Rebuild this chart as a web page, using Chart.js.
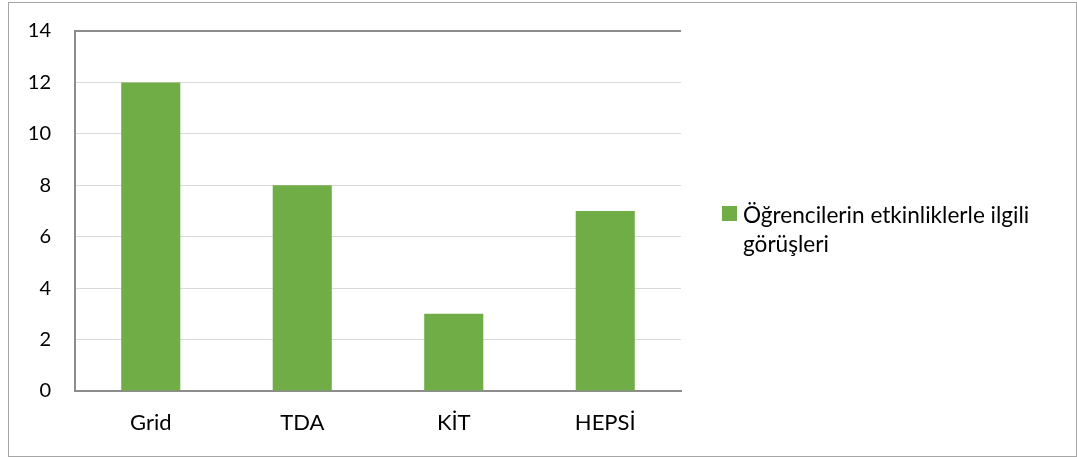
<!DOCTYPE html>
<html>
<head>
<meta charset="utf-8">
<script src="https://cdn.jsdelivr.net/npm/chart.js@4/dist/chart.umd.min.js"></script>
<style>
  html, body { margin: 0; padding: 0; background: #fff; }
  #kutu {
    position: absolute; left: 8px; top: 2px;
    width: 1067px; height: 453px;
    border: 1px solid #a6a6a6; border-right-width: 2px; border-bottom-width: 2px;
  }
  #grafik { display: block; }
</style>
</head>
<body>
<div id="kutu"><canvas id="grafik" width="1067" height="453"></canvas></div>
<script>
const kategoriler = ['Grid', 'TDA', 'KİT', 'HEPSİ'];
const degerler = [12, 8, 3, 7];
const seriAdi = 'Öğrencilerin etkinliklerle ilgili görüşleri';
const legendSatirlari = ['Öğrencilerin etkinliklerle ilgili', 'görüşleri'];
const yaziTipi = "Lato, 'Open Sans', sans-serif";

// Sağ taraftaki açıklama, iki satıra bölünmüş
const aciklama = {
    id: 'aciklama',
    afterDraw(chart) {
        const { ctx, chartArea: a } = chart;
        const orta = (a.top + a.bottom) / 2;
        const x = 713;
        ctx.save();
        ctx.fillStyle = '#70ad47';
        ctx.fillRect(x, orta - 5, 15, 15);
        ctx.fillStyle = '#000';
        ctx.font = '22.6px ' + yaziTipi;
        ctx.textBaseline = 'alphabetic';
        legendSatirlari.forEach((satir, i) => ctx.fillText(satir, x + 21, orta + 12 + i * 29));
        ctx.restore();
    }
};

new Chart(document.getElementById('grafik'), {
    type: 'bar',
    data: {
        labels: kategoriler,
        datasets: [{
            label: seriAdi,
            data: degerler,
            backgroundColor: '#70ad47',
            categoryPercentage: 1,
            barPercentage: 0.39
        }]
    },
    options: {
        responsive: false,
        animation: false,
        layout: { padding: { left: 0, right: 395, top: 28, bottom: 0 } },
        plugins: { legend: { display: false }, tooltip: { enabled: false } },
        scales: {
            x: {
                afterFit: (s) => { s.height = 65; },
                grid: { display: false, drawTicks: false },
                border: { color: '#8c8c8c', width: 2 },
                ticks: { color: '#000', font: { family: yaziTipi, size: 22 }, padding: 19 }
            },
            y: {
                min: 0, max: 14,
                afterFit: (s) => { s.width = 66; s.paddingTop = 0; s.paddingBottom = 0; },
                grid: {
                    drawTicks: false,
                    color: (c) => c.tick && c.tick.value === 14 ? '#8c8c8c' : '#d9d9d9',
                    lineWidth: (c) => c.tick && c.tick.value === 14 ? 2 : 1
                },
                border: { color: '#8c8c8c', width: 2 },
                ticks: { stepSize: 2, color: '#000', font: { family: yaziTipi, size: 20 }, padding: 24 }
            }
        }
    },
    plugins: [aciklama]
});
</script>
</body>
</html>
